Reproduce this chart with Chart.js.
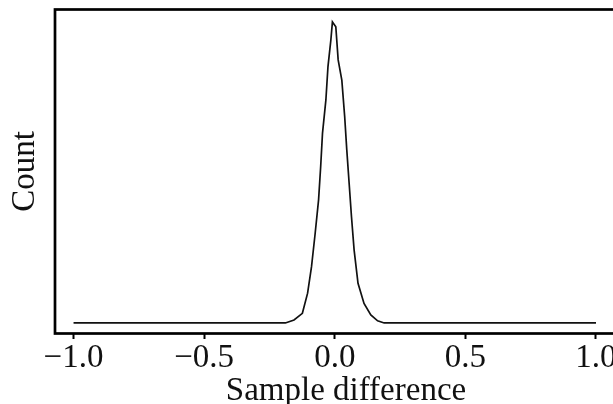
<!DOCTYPE html>
<html>
<head>
<meta charset="utf-8">
<script src="https://cdn.jsdelivr.net/npm/chart.js@4"></script>
<style>
    html, body { margin: 0; padding: 0; background: #fff; overflow: hidden; }
    #wrap { width: 640px; height: 404px; }
</style>
</head>
<body>
<div id="wrap"><canvas id="diffChart" width="640" height="404"></canvas></div>
<script>
// sample difference (x) and count (normalised to the peak)
const diffs = [-1.0, -0.5, -0.2, -0.189, -0.156, -0.124, -0.104, -0.089, -0.075, -0.062, -0.054, -0.047,
    -0.034, -0.026, -0.015, -0.009, 0.004, 0.013, 0.027, 0.038, 0.046, 0.055, 0.064, 0.074, 0.089,
    0.112, 0.138, 0.164, 0.189, 0.5, 1.0];
const counts = [0, 0, 0, 0, 0.01, 0.032, 0.099, 0.187, 0.298, 0.409, 0.519, 0.630,
    0.741, 0.852, 0.940, 1.0, 0.984, 0.874, 0.807, 0.685, 0.575, 0.464, 0.353, 0.243, 0.132,
    0.065, 0.027, 0.007, 0, 0, 0];
const xTicks = [-1.0, -0.5, 0.0, 0.5, 1.0];

const serif = "'Liberation Serif', 'DejaVu Serif', serif";

// matplotlib style closed frame around the plot area
const frame = {
    id: "frame",
    afterDraw(chart) {
        const a = chart.chartArea;
        const ctx = chart.ctx;
        ctx.save();
        ctx.strokeStyle = "#000";
        ctx.lineWidth = 2.7;
        ctx.strokeRect(a.left, a.top, a.right - a.left, a.bottom - a.top);
        ctx.restore();
    }
};

new Chart(document.getElementById("diffChart"), {
    type: "line",
    data: {
        datasets: [{
            data: diffs.map((d, i) => ({ x: d, y: counts[i] })),
            borderColor: "#111",
            borderWidth: 1.7,
            pointRadius: 0,
            tension: 0,
            fill: false
        }]
    },
    plugins: [frame],
    options: {
        responsive: false,
        animation: false,
        layout: { padding: { left: 0, right: 3, top: 9.5, bottom: 0 } },
        plugins: { legend: { display: false }, tooltip: { enabled: false } },
        scales: {
            x: {
                type: "linear",
                min: -1.071,
                max: 1.157,
                afterFit: s => { s.height = 70.5; },
                afterBuildTicks: s => { s.ticks = xTicks.map(v => ({ value: v })); },
                grid: { drawOnChartArea: false, tickLength: 5.5, tickWidth: 2, tickColor: "#000" },
                border: { display: false },
                ticks: {
                    color: "#111",
                    padding: 3,
                    maxRotation: 0,
                    font: { family: serif, size: 33, lineHeight: 1 },
                    callback: v => v.toFixed(1).replace("-", "\u2212")
                },
                title: {
                    display: true,
                    text: "Sample difference",
                    color: "#111",
                    padding: { top: 0, bottom: -4 },
                    font: { family: serif, size: 33, lineHeight: 1 }
                }
            },
            y: {
                min: -0.035,
                max: 1.0415,
                afterFit: s => { s.width = 55; },
                grid: { display: false },
                border: { display: false },
                ticks: { display: false },
                title: {
                    display: true,
                    text: "Count",
                    color: "#111",
                    padding: { top: 9, bottom: 0 },
                    font: { family: serif, size: 33, lineHeight: 1 }
                }
            }
        }
    }
});
</script>
</body>
</html>
